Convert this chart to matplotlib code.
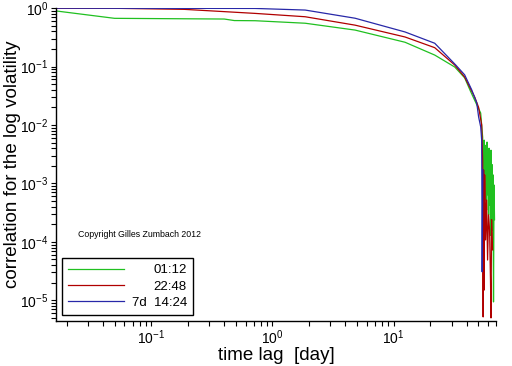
import matplotlib
matplotlib.use("Agg")
import matplotlib.pyplot as plt
from matplotlib import font_manager
from matplotlib.ticker import LogLocator, NullFormatter

# --------------------------
# Data
# --------------------------
lag_green = [0.0166, 0.0498, 0.40, 0.484, 0.72, 1.86, 4.8, 12.4, 21.8, 31.9, 38.5,
             43.2, 47.6, 52.2, 54.2, 55.2, 55.8, 56.3, 56.8, 57.3, 57.9, 58.4, 58.9,
             59.5, 60.1, 60.6, 61.2, 61.8, 62.3, 62.9, 63.5, 64.2, 64.8, 65.4, 66.0,
             66.6, 67.3, 67.9]
corr_green = [0.889, 0.667, 0.649, 0.611, 0.607, 0.55, 0.42, 0.26, 0.157, 0.098, 0.064,
              0.037, 0.024, 0.016, 6.2e-3, 1.4e-3, 5.5e-3, 7.7e-4, 4.5e-3, 5.2e-4, 3.7e-3,
              3.5e-4, 5.1e-3, 6.4e-4, 3.1e-3, 2.9e-4, 4.0e-3, 4.3e-4, 2.5e-3, 1.3e-4,
              3.7e-3, 8.9e-5, 2.1e-3, 1.6e-4, 1.4e-3, 9.4e-6, 9.4e-4, 2.4e-4]

lag_red = [0.0166, 0.05, 0.1875, 0.72, 1.86, 4.8, 12.4, 21.8, 31.9, 38.5, 46.6, 50.2,
           53.2, 54.2, 54.7, 55.2, 55.8, 56.3, 57.3, 58.4, 59.5, 60.6, 61.8, 62.9,
           63.5, 64.2, 65.4]
corr_red = [0.99, 0.99, 0.95, 0.81, 0.71, 0.51, 0.32, 0.21, 0.106, 0.066, 0.030, 0.020,
            0.010, 2.5e-3, 5.2e-6, 1.7e-3, 1.5e-5, 1.4e-3, 1.08e-4, 5.2e-4, 4.9e-5,
            2.9e-4, 1.6e-4, 2.2e-5, 5e-6, 2.4e-4, 7.3e-5]

lag_blue = [0.0166, 0.1, 0.72, 1.86, 4.8, 12.4, 21.8, 32.5, 38.5, 44, 48.4, 50.2,
            52.2, 53.2, 53.7, 54.4]
corr_blue = [0.995, 0.99, 0.985, 0.924, 0.67, 0.39, 0.25, 0.106, 0.072, 0.04, 0.024,
             0.0137, 0.0093, 0.0055, 3.07e-5, 1.7e-3]

labels = ["01:12", "22:48", "7d  14:24"]
colors = ["#20c020", "#b00000", "#2828a8"]

# --------------------------
# Style
# --------------------------
names = {f.name for f in font_manager.fontManager.ttflist}
narrow = "Liberation Sans Narrow" in names
tick_font = "Liberation Sans Narrow" if narrow else "Liberation Sans"
tick_size = 12 if narrow else 10
lab_font = ["Liberation Sans Narrow", "Liberation Sans"] if narrow else ["Liberation Sans"]
lab_size = 16.5 if narrow else 13.5

plt.rcParams["font.family"] = ["Liberation Sans", "DejaVu Sans"]
plt.rcParams["mathtext.fontset"] = "custom"
plt.rcParams["mathtext.rm"] = tick_font
plt.rcParams["mathtext.it"] = tick_font + ":italic"
plt.rcParams["mathtext.bf"] = tick_font + ":bold"

fig = plt.figure(figsize=(5.12, 3.66), dpi=100)
ax = fig.add_axes([0.109, 0.124, 0.860, 0.854])

series = [(lag_green, corr_green), (lag_red, corr_red), (lag_blue, corr_blue)]
for (xs, ys), lab, col in zip(series, labels, colors):
    ax.plot(xs, ys, color=col, lw=0.9, label=lab)

ax.set_xscale("log")
ax.set_yscale("log")
ax.set_xlim(0.0163, 70)
ax.set_ylim(4.5e-6, 1.0)

for s in ["top", "right"]:
    ax.spines[s].set_visible(False)
for s in ["left", "bottom"]:
    ax.spines[s].set_linewidth(1.0)

ax.xaxis.set_minor_locator(LogLocator(base=10, subs=range(2, 10), numticks=20))
ax.yaxis.set_minor_locator(LogLocator(base=10, subs=range(2, 10), numticks=20))
ax.xaxis.set_minor_formatter(NullFormatter())
ax.yaxis.set_minor_formatter(NullFormatter())
ax.tick_params(which="both", direction="out", length=3.5, width=0.8,
               labelsize=tick_size)
ax.tick_params(axis="x", pad=2)
ax.tick_params(axis="y", pad=2)

ax.set_xlabel("time lag  [day]", fontsize=lab_size, family=lab_font)
ax.set_ylabel("correlation for the log volatility", fontsize=lab_size,
              family=lab_font)
ax.xaxis.set_label_coords(0.5, -0.083)
ax.yaxis.set_label_coords(-0.078, 0.50)

ax.text(0.05, 0.274, "Copyright Gilles Zumbach 2012", transform=ax.transAxes,
        fontsize=6.3, va="center")

leg = ax.legend(loc="lower left", bbox_to_anchor=(0.015, 0.019), borderaxespad=0,
                fancybox=False, framealpha=1, edgecolor="black", fontsize=9.5,
                handlelength=4.2, labelspacing=0.3, handletextpad=0.6,
                borderpad=0.45)
leg.get_frame().set_linewidth(1.0)

# right-align legend labels
renderer = fig.canvas.get_renderer()
widths = [t.get_window_extent(renderer).width for t in leg.get_texts()]
wmax = max(widths)
for t, w in zip(leg.get_texts(), widths):
    t.set_position((wmax - w, 0))

fig.savefig("out.png", dpi=100)
